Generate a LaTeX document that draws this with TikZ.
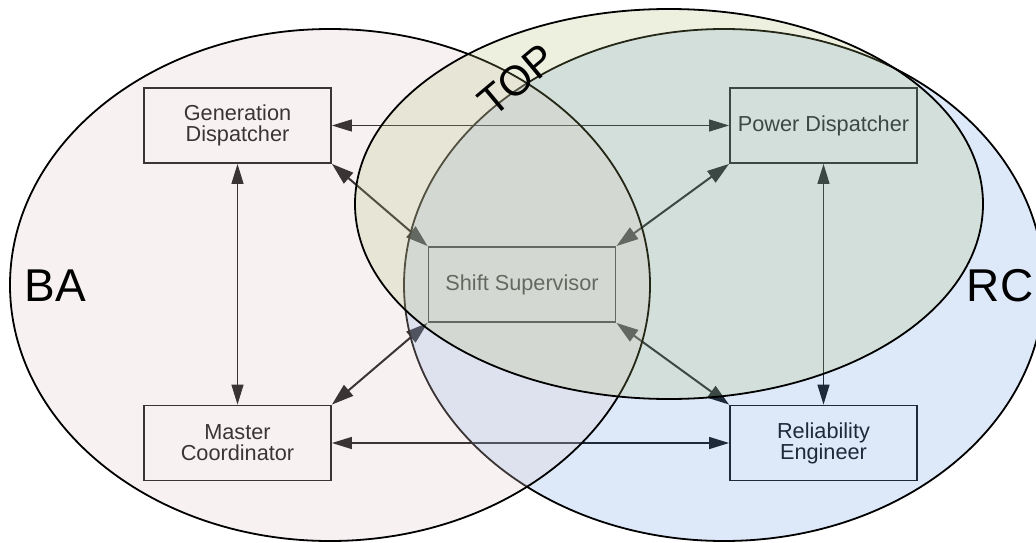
\documentclass[tikz,border=0pt]{standalone}
\usepackage{fontspec}
\setmainfont{Liberation Sans}
\usetikzlibrary{arrows.meta}
\definecolor{rcblue}{RGB}{120,168,232}
\definecolor{bapink}{RGB}{227,204,208}
\definecolor{topolive}{RGB}{174,188,107}
\begin{document}
\begin{tikzpicture}[x=1pt,y=-1pt,
  box/.style={draw=black, line width=1.8pt, minimum width=187pt, minimum height=75pt,
    inner sep=0pt, align=center, font=\fontsize{21.7}{21}\selectfont, text=black},
  link/.style={line width=1.3pt, {Triangle[length=20pt,width=12pt]}-{Triangle[length=20pt,width=12pt]}},
  diag/.style={line width=2pt, {Triangle[length=22pt,width=14pt]}-{Triangle[length=22pt,width=14pt]}},
  zone/.style={draw=black, line width=1.8pt},
  zonelabel/.style={font=\fontsize{46}{46}\selectfont, text=black, inner sep=0pt}]
\useasboundingbox (0,0) rectangle (1036,543);
\clip (0,0) rectangle (1036,543);
\fill[white] (0,0) rectangle (1036,543);

% boxes
\node[box] (gen) at (237.5,125.5) {Generation\\Dispatcher};
\node[box] (pow) at (823.5,125.5) {Power Dispatcher};
\node[box] (mas) at (237.5,443) {Master\\Coordinator};
\node[box] (rel) at (823.5,443) {Reliability\\Engineer};
\node[box] (sft) at (522,284.5) {Shift Supervisor};

% connectors
\draw[link] (gen.east) -- (pow.west);
\draw[link] (mas.east) -- (rel.west);
\draw[link] (gen.south) -- (mas.north);
\draw[link] (pow.south) -- (rel.north);
\draw[diag] (gen.south east) -- (sft.north west);
\draw[diag] (pow.south west) -- (sft.north east);
\draw[diag] (sft.south west) -- (mas.north east);
\draw[diag] (sft.south east) -- (rel.north west);

% zones
\path[zone, fill=rcblue, fill opacity=0.25] (724,285) ellipse [x radius=320, y radius=256];
\path[zone, fill=bapink, fill opacity=0.26] (330,285) ellipse [x radius=320, y radius=256];
\path[zone, fill=topolive, fill opacity=0.21] (669,204) ellipse [x radius=314, y radius=195];

% zone labels
\node[zonelabel] (ba) at (55,286) {BA};
\node[zonelabel] (rc) at (1000,286) {RC};
\node[zonelabel, font=\fontsize{42}{42}\selectfont, rotate=40] (top) at (517,80) {TOP};
\end{tikzpicture}
\end{document}
